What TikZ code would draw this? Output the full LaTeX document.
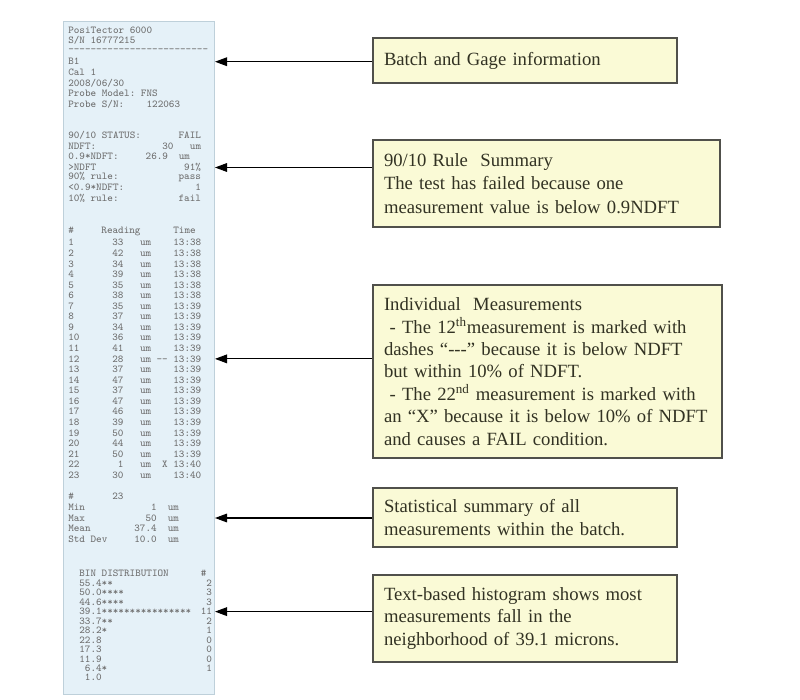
\documentclass[tikz,border=0pt]{standalone}
\usepackage{fontspec}
\setmainfont{Liberation Serif}
\usetikzlibrary{arrows.meta}
\definecolor{rfill}{RGB}{229,241,248}
\definecolor{rline}{RGB}{190,208,218}
\definecolor{rtxt}{RGB}{110,110,110}
\definecolor{bxfill}{RGB}{250,250,214}
\definecolor{bxline}{RGB}{80,80,75}
\definecolor{bxtext}{RGB}{50,50,35}
\newcommand\mb[3]{\makebox[#1\dimexpr0.525em\relax][#2]{#3}}
\newcommand\rdashes{\foreach\k in{1,...,25}{\hbox{-}}}
\newcommand\bxfont[1]{\fontsize{14pt}{#1}\selectfont}
\newcommand\rfont{\ttfamily\fontsize{7.9pt}{9pt}\selectfont}
\tikzset{
  receipt/.style={draw=rline, fill=rfill, line width=0.75pt, minimum width=113.25pt, minimum height=505.1pt, inner sep=0pt},
  rt/.style={anchor=west, inner sep=0pt, text=rtxt, font=\rfont},
  bx/.style={draw=bxline, fill=bxfill, line width=1pt, text=bxtext, align=left, inner xsep=8.25pt, inner ysep=0pt,
    font=\bxfont{17pt}},
  arr/.style={draw=black, line width=0.8pt, -{Triangle[length=9pt,width=6.5pt]}}
}
\begin{document}
\begin{tikzpicture}[x=0.75pt,y=-0.75pt]
\fill[white] (0,0) rectangle (800,700);
\useasboundingbox (0,0) rectangle (800,700);

\node[receipt] (rc) at (139,358.25) {};

% header block
\node[rt] (t1) at (68,30) {PosiTector~6000};
\node[rt] (t2) at (68,40.57) {S/N~16777215};
\node[rt] (t3) at (68,51.14) {\rdashes};
\node[rt] (t4) at (68,61.71) {B1};
\node[rt] (t5) at (68,72.28) {Cal~1};
\node[rt] (t6) at (68,82.85) {2008/06/30};
\node[rt] (t7) at (68,93.42) {Probe~Model:~FNS};
\node[rt] (t8) at (68,104) {Probe~S/N:~~~~122063};

% status block
\node[rt] (s1) at (68,135.7) {\mb{13}{l}{90/10~STATUS:}\mb{11}{r}{FAIL}};
\node[rt] (s2) at (68,146.1) {\mb{17}{l}{NDFT:}\mb{5}{l}{30}\mb{2}{l}{um}};
\node[rt] (s3) at (68,156.5) {\mb{14}{l}{0.9*NDFT:}\mb{6}{l}{26.9}\mb{2}{l}{um}};
\node[rt] (s4) at (68,167.5) {\mb{12}{l}{>NDFT}\mb{12}{r}{91\%}};
\node[rt] (s5) at (68,177.3) {\mb{12}{l}{90\%~rule:}\mb{12}{r}{pass}};
\node[rt] (s6) at (68,187.7) {\mb{12}{l}{<0.9*NDFT:}\mb{12}{r}{1}};
\node[rt] (s7) at (68,198.1) {\mb{12}{l}{10\%~rule:}\mb{12}{r}{fail}};

% readings
\node[rt] (rh) at (68,231.7) {\mb{6}{l}{\#}\mb{13}{l}{Reading}Time};
\foreach \n/\v/\m/\t [count=\i] in {1/33//13:38, 2/42//13:38, 3/34//13:38, 4/39//13:38, 5/35//13:38, 6/38//13:38,
  7/35//13:39, 8/37//13:39, 9/34//13:39, 10/36//13:39, 11/41//13:39, 12/28/{\hbox{-}\hbox{-}}/13:39,
  13/37//13:39, 14/47//13:39, 15/37//13:39, 16/47//13:39, 17/46//13:39, 18/39//13:39, 19/50//13:39,
  20/44//13:39, 21/50//13:39, 22/1/X/13:40, 23/30//13:40}
  \node[rt] (rd\i) at (68,{242.7+(\i-1)*10.56}) {\mb{8}{l}{\n}\mb{2}{r}{\v}\mb{3}{l}{}\mb{2}{l}{um}\mb{3}{r}{\m}\mb{1}{l}{}\t};

% statistics
\node[rt] (m0) at (68,496.7) {\mb{8}{l}{\#}\mb{2}{r}{23}};
\node[rt] (m1) at (68,507.35) {\mb{12}{l}{Min}\mb{4}{r}{1}\mb{2}{l}{}um};
\node[rt] (m2) at (68,518) {\mb{12}{l}{Max}\mb{4}{r}{50}\mb{2}{l}{}um};
\node[rt] (m3) at (68,528.65) {\mb{12}{l}{Mean}\mb{4}{r}{37.4}\mb{2}{l}{}um};
\node[rt] (m4) at (68,539.3) {\mb{12}{l}{Std~Dev}\mb{4}{r}{10.0}\mb{2}{l}{}um};

% histogram
\node[rt] (hh) at (68,573.3) {\mb{2}{l}{}\mb{22}{l}{BIN~DISTRIBUTION}\#};
\foreach \b/\c [count=\k from 0] in {55.4**/2, 50.0****/3, 44.6****/3, 39.1****************/11, 33.7**/2,
  28.2*/1, 22.8/0, 17.3/0, 11.9/0, ~6.4*/1, ~1.0/}
  \node[rt] (hb\k) at (68,{583.3+\k*9.44}) {\mb{2}{l}{}\mb{22}{l}{\b}\mb{2}{r}{\c}};

% callout boxes
\node[bx, text width=211.5pt, minimum height=33.75pt] (b1) at (525,60.5) {Batch and Gage information};
\node[bx, text width=243.75pt, minimum height=65.25pt, font=\bxfont{17.8pt}] (b2) at (546.5,183.5)
  {90/10 Rule\ \ Summary\\The test has failed because one\\measurement value is below 0.9NDFT};
\node[bx, text width=245.25pt, minimum height=129.75pt, font=\bxfont{16.8pt}] (b3) at (547.5,371.5)
  {Individual\ \ Measurements\\
   \hspace*{0.3em}- The 12\textsuperscript{th}measurement is marked with\\
   dashes “\hbox{-}\hbox{-}\hbox{-}” because it is below NDFT\\
   but within 10\% of NDFT.\\
   \hspace*{0.3em}- The 22\textsuperscript{nd} measurement is marked with\\
   an “X” because it is below 10\% of NDFT\\
   and causes a FAIL condition.};
\node[bx, text width=211.5pt, minimum height=44.25pt] (b4) at (525,517.5)
  {Statistical summary of all\\measurements within the batch.};
\node[bx, text width=211.5pt, minimum height=65.25pt, font=\bxfont{16.9pt}] (b5) at (525,618.5)
  {Text-based histogram shows most\\measurements fall in the\\neighborhood of 39.1 microns.};

% arrows
\draw[arr] (b1.west |- t4) -- (rc.east |- t4);
\draw[arr] (b2.west |- s4) -- (rc.east |- s4);
\draw[arr] (b3.west |- rd12) -- (rc.east |- rd12);
\draw[arr] (b4.west |- m2) -- (rc.east |- m2);
\draw[arr] (b5.west |- hb3) -- (rc.east |- hb3);
\end{tikzpicture}
\end{document}
